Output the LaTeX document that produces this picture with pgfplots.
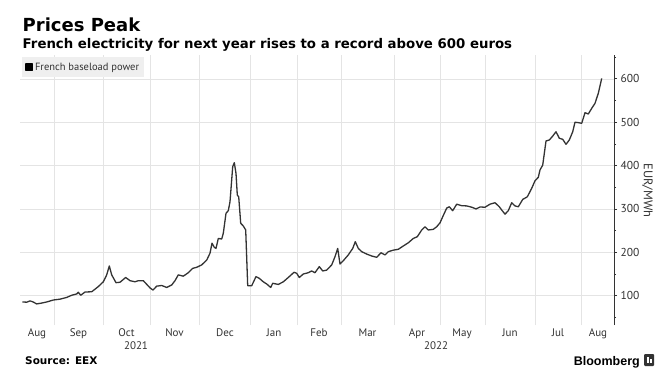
\documentclass[border=0pt]{standalone}
\usepackage{fontspec}
\setmainfont{PT Sans}
\newfontfamily\djv{DejaVu Sans}
\newfontfamily\libs{Liberation Sans}
\usepackage{pgfplots}
\pgfplotsset{compat=1.18}
\definecolor{linec}{HTML}{333333}
\definecolor{gridc}{HTML}{E4E4E4}
\definecolor{legbg}{HTML}{EFEFEF}
\definecolor{textc}{HTML}{333333}
\begin{document}
\begin{tikzpicture}
\useasboundingbox (0pt,0pt) rectangle (671pt,-382pt);
\fill[white] (0pt,0pt) rectangle (671pt,-382pt);
\node[anchor=base west, inner sep=0pt, font=\djv\bfseries\fontsize{18}{21}\selectfont] at (22.5pt,-31.7pt) {Prices Peak};
\node[anchor=base west, inner sep=0pt, font=\djv\bfseries\fontsize{13.3}{15}\selectfont] at (22.5pt,-48.8pt) {French electricity for next year rises to a record above 600 euros};
\begin{axis}[
  at={(20pt,-325pt)}, anchor=south west,
  scale only axis, width=594pt, height=270pt,
  xmin=20, xmax=614, ymin=32.4, ymax=655,
  axis x line=bottom, axis y line=right,
  x axis line style={draw=none},
  y axis line style={draw=linec, line width=0.9pt, -},
  xtick={54,103,150,199,250.7,297.7,341,394,440,485,535,581.7},
  xticklabels={},
  major x tick style={draw=none},
  xmajorgrids,
  extra x ticks={37,78.5,126.5,174.5,225,274,319,367.5,417,462,510,558,598},
  extra x tick labels={Aug,Sep,Oct,Nov,Dec,Jan,Feb,Mar,Apr,May,Jun,Jul,Aug},
  extra x tick style={xmajorgrids=false, major tick length=0pt, tick style={draw=none}},
  xticklabel style={font=\fontsize{11}{13}\selectfont, text=textc},
  ytick={100,200,300,400,500,600},
  minor ytick={50,150,250,350,450,550,650},
  ymajorgrids,
  grid style={draw=gridc, line width=0.6pt},
  tick align=outside,
  major tick length=3pt, minor tick length=2pt,
  y tick style={draw=linec, line width=0.7pt},
  yticklabel style={font=\fontsize{11.5}{13}\selectfont, text=textc},
  /pgf/number format/assume math mode=true,
  legend style={at={(0.0034,0.9926)}, anchor=north west, fill=legbg, draw=none,
     font=\fontsize{10.5}{12}\selectfont, text=textc, inner xsep=3pt, inner ysep=3.5pt,
     /tikz/every even column/.append style={column sep=1pt}},
  legend image code/.code={\fill[black] (0pt,-3.2pt) rectangle (6.5pt,3.2pt);},
  clip=false,
]
\addplot[draw=linec, line width=1.3pt, line join=round] coordinates {
(22.3,85.5) (26.7,85) (30,88) (32.7,86) (36.7,81) (41.7,83) (46.7,85.5) (53.3,90)
(60,92) (66.7,96) (71.7,101) (76.7,104) (78.3,108) (80.7,101) (85,108.5) (91.7,109)
(98.3,121) (103.3,132) (106.7,148) (109.3,168.5) (111.7,148) (116,130) (120,131)
(125.7,142) (130,134.6) (135,132) (138.3,134.6) (143.3,134.6) (147.3,124.7)
(150,118) (153,113) (156.7,122) (161.7,123.5) (166.7,119) (171.7,124.7) (175,134.6)
(178.3,148) (183.3,145) (188.3,153) (192.7,163) (196.7,165.5) (201.7,171) (206.7,182)
(210,198) (212,221) (214.3,211.6) (216,209) (218.3,232) (221.7,230.7) (223.3,244)
(226,290) (228.3,296) (230,316.7) (232.7,397.5) (234.3,406.7) (236,382) (237.3,332)
(238.7,328) (240.7,267) (243.3,260.7) (245.7,251.5) (247.7,123) (251.7,123) (256,144)
(259.3,140) (263.3,132) (266.7,127) (270.7,119) (272.7,128.6) (278.3,126) (283.3,132)
(288.3,142) (294,154) (296.7,151.6) (299.3,142) (303.3,150) (308.3,153) (311.7,157)
(315,153) (319.3,167) (322.7,157) (326.7,159) (331.7,171) (335,190) (337.7,209)
(340,173) (343.3,180.7) (348.3,194) (352.7,209) (355.3,224.5) (358.3,209) (361.7,201.5)
(366.7,196) (371.7,191.5) (376.7,188.5) (381,199) (385,194) (388.3,201.5) (393.3,205)
(398.3,207) (403.3,214.6) (408.3,222) (413.3,232) (417.3,236) (421.7,251.5) (425,259)
(428.3,251.5) (433.3,253) (436.7,259) (440,268) (443.3,285) (446.7,302) (449.3,305)
(452.7,296) (456.7,311) (461.7,307.5) (466.7,307) (471.7,304) (476,300) (480,304.5)
(485,304) (490,311) (495,314.4) (499.3,305) (501.7,297.6) (505,288) (508.3,296)
(511.7,314.4) (515,307) (518.3,305) (522.7,322) (527.3,328) (531.7,347.6) (535,365)
(538.3,373) (540,390) (542.7,401) (544.3,428) (546,456.7) (549.3,459) (552.7,468)
(556,478) (559.3,463) (562.7,460.6) (566,449) (569.3,459) (572.7,478) (575,500)
(578.3,499) (581.7,497.5) (585,522) (588.3,519) (591.7,532) (595,543.6) (598.3,566.7)
(601.7,601)
};
\addlegendentry{French baseload power}
\end{axis}
\node[rotate=-90, font=\fontsize{12.5}{14}\selectfont, text=textc] at (647.5pt,-190.5pt) {EUR/MWh};
\node[font=\fontsize{11}{13}\selectfont, text=textc] at (136pt,-346pt) {2021};
\node[font=\fontsize{11}{13}\selectfont, text=textc] at (436pt,-346pt) {2022};
\node[anchor=base west, inner sep=0pt, font=\djv\bfseries\fontsize{10.5}{12}\selectfont] at (25pt,-364.6pt) {Source: EEX};
\node[anchor=base east, inner sep=0pt, font=\libs\bfseries\fontsize{12.5}{14}\selectfont] at (640pt,-365pt) {Bloomberg};
\fill[linec, rounded corners=1pt] (644pt,-354pt) rectangle (654pt,-366pt);
\fill[white] (646.5pt,-357pt) rectangle (648.5pt,-363pt);
\fill[white] (649.5pt,-359pt) rectangle (651.5pt,-363pt);
\end{tikzpicture}
\end{document}
